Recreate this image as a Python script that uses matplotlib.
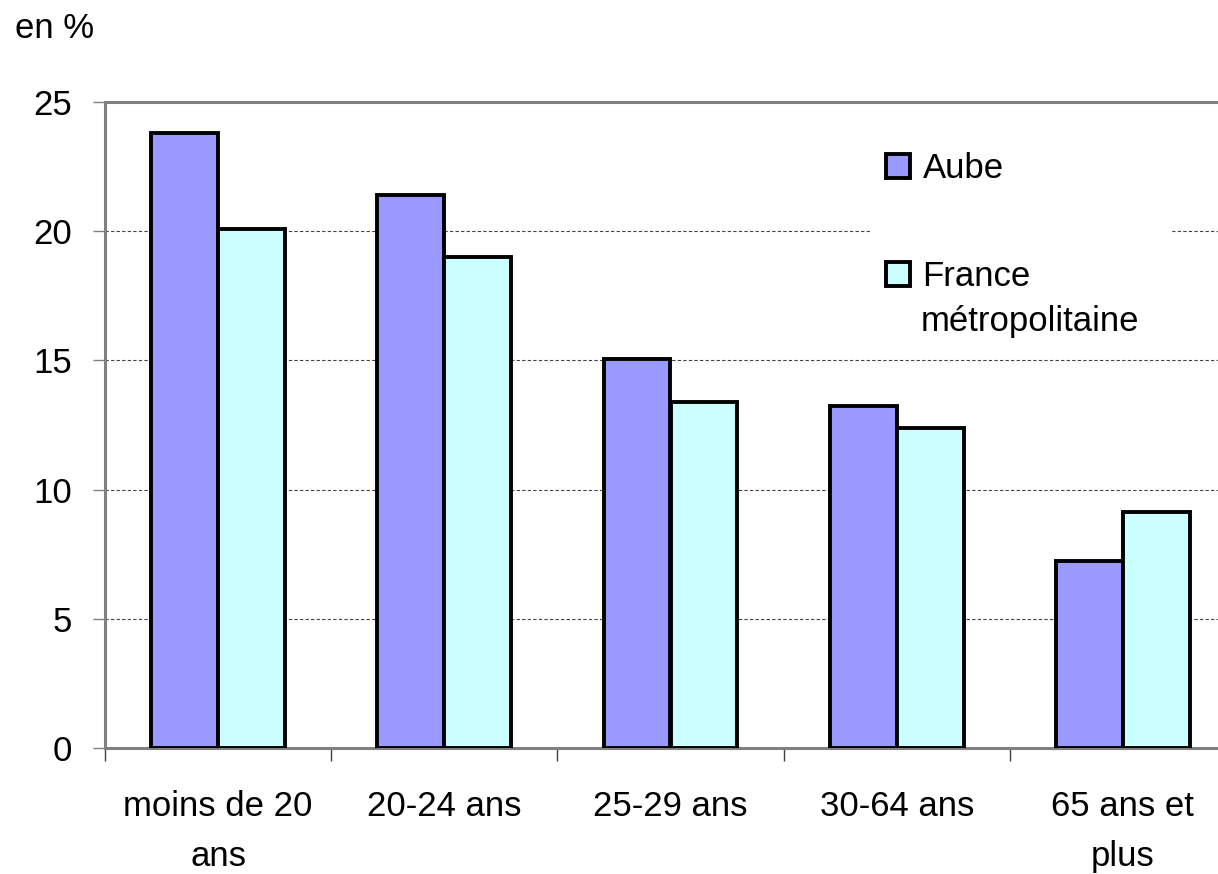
import numpy as np
import matplotlib
matplotlib.use("Agg")
from matplotlib import pyplot as plt
from matplotlib.patches import Rectangle

categories = ["moins de 20\nans", "20-24 ans", "25-29 ans", "30-64 ans", "65 ans et\nplus"]
aube = [23.8, 21.4, 15.05, 13.25, 7.25]
france = [20.1, 19.0, 13.4, 12.4, 9.15]
series_names = ["Aube", "France", "métropolitaine"]
y_ticks = [0, 5, 10, 15, 20, 25]

plt.rcParams['font.family'] = ['Liberation Sans', 'DejaVu Sans']

fig = plt.figure(figsize=(12.18, 8.74), dpi=100)
# plot area runs past the right edge of the picture, like the original
ax = fig.add_axes([105 / 1218, 1 - 748 / 874, 1131 / 1218, 646 / 874])

x = np.arange(len(categories)) + 0.5
w = 0.296
b1 = ax.bar(x - w / 2, aube, w, color="#9999FF", edgecolor="black", linewidth=2.8, zorder=3)
b2 = ax.bar(x + w / 2, france, w, color="#CCFFFF", edgecolor="black", linewidth=2.8, zorder=3)

ax.set_xlim(0, len(categories))
ax.set_ylim(0, 25)

ax.set_axisbelow(True)
ax.set_yticks(y_ticks)
ax.yaxis.grid(True, linestyle=(0, (3, 2)), color="#444444", linewidth=0.8)
ax.tick_params(axis="y", labelsize=25, length=9, width=1, color="#808080", pad=15, direction="out")

ax.set_xticks(np.arange(len(categories)))
ax.set_xticklabels([])
ax.tick_params(axis="x", which="major", length=9, width=1, color="#404040", direction="out")
ax.set_xticks(x, minor=True)
ax.set_xticklabels(categories, minor=True, fontsize=25, linespacing=1.65)
ax.tick_params(axis="x", which="minor", length=0, pad=30)

for s in ["left", "bottom", "top"]:
    ax.spines[s].set_color("#808080")
    ax.spines[s].set_linewidth(2.2)
ax.spines["right"].set_visible(False)

# white box behind the legend, hides the gridline
ax.add_patch(Rectangle((872 / 1218, 1 - 345 / 874), 300 / 1218, 205 / 874,
                       transform=fig.transFigure, facecolor="white", edgecolor="none", zorder=2))

leg = ax.legend([b1, b2], series_names[:2], loc="upper left", bbox_to_anchor=(0.666, 0.965),
                fontsize=25, frameon=False,
                handlelength=0.7, handleheight=0.7, handletextpad=0.35,
                labelspacing=2.15, borderpad=0.3)
# second line of the France label, set under the legend entry
fig.text(921 / 1218, 1 - 322 / 874, series_names[2], fontsize=25, va="center")

fig.text(15 / 1218, 1 - 38 / 874, "en %", fontsize=25)

fig.savefig("out.png", dpi=100)
